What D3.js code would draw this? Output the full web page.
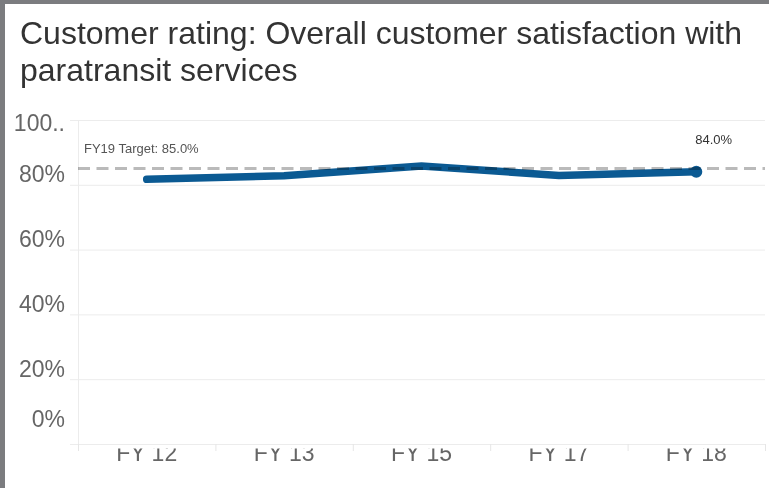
<!DOCTYPE html>
<html>
<head>
<meta charset="utf-8">
<script src="https://cdn.jsdelivr.net/npm/d3@7"></script>
<style>
  html, body { margin: 0; padding: 0; background: #fff; }
  svg { display: block; font-family: "Liberation Sans", Arial, sans-serif; }
</style>
</head>
<body>
<svg id="chart" width="769" height="488"></svg>
<script>
// Fiscal years and overall paratransit satisfaction ratings (%)
const years = ["FY 12", "FY 13", "FY 15", "FY 17", "FY 18"];
const ratings = [81.7, 82.8, 85.8, 82.9, 84.0];
const target = 85.0;
const targetLabel = "FY19 Target: 85.0%";
const yTicks = [0, 20, 40, 60, 80, 100];
const titleLines = ["Customer rating: Overall customer satisfaction with", "paratransit services"];

const W = 769, H = 488;
const svg = d3.select("#chart");

const plot = { left: 78, right: 765, top: 120, bottom: 444 };

const x = d3.scaleBand().domain(years).range([plot.left, plot.right]).padding(0);
const y = d3.scaleLinear().domain([0, 100]).range([plot.bottom, plot.top]);
const cx = d => x(d) + x.bandwidth() / 2;

// frame
svg.append("rect").attr("width", W).attr("height", H).attr("fill", "#fff");
svg.append("rect").attr("x", 0).attr("y", 0).attr("width", W).attr("height", 4).attr("fill", "#7b7c7f");
svg.append("rect").attr("x", 0).attr("y", 0).attr("width", 5).attr("height", H).attr("fill", "#7b7c7f");

// title
svg.append("g").selectAll("text").data(titleLines).join("text")
  .attr("x", 20)
  .attr("y", (d, i) => 44 + i * 37)
  .attr("font-size", 32)
  .attr("fill", "#333")
  .text(d => d);

// horizontal grid from the y axis
const yAxis = d3.axisLeft(y)
  .tickValues(yTicks)
  .tickSizeInner(-(plot.right - plot.left))
  .tickSizeOuter(0)
  .tickFormat(d => d === 100 ? "100.." : d + "%");

const gy = svg.append("g").attr("transform", `translate(${plot.left},0)`).call(yAxis);
gy.select(".domain").remove();
gy.selectAll(".tick").attr("transform", null);
gy.selectAll(".tick line")
  .attr("x1", -8).attr("x2", plot.right - plot.left)
  .attr("y1", d => y(d) + 0.5).attr("y2", d => y(d) + 0.5)
  .attr("stroke", "#ececec");
gy.selectAll(".tick text")
  .attr("x", -13)
  .attr("dy", null)
  .attr("y", d => Math.max(131, Math.min(427, y(d) - 2.5)))
  .attr("font-size", 23)
  .attr("font-family", "Liberation Sans, Arial, sans-serif")
  .attr("fill", "#666")
  .attr("text-anchor", "end");

// vertical axis line
svg.append("line")
  .attr("x1", plot.left + 0.5).attr("x2", plot.left + 0.5)
  .attr("y1", plot.top).attr("y2", plot.bottom)
  .attr("stroke", "#ececec");

// x axis: labels centred in bands, ticks at band boundaries
const bounds = years.map(d => x(d)).concat([plot.right]);
svg.append("g").selectAll("line").data(bounds).join("line")
  .attr("x1", d => d + 0.5).attr("x2", d => d + 0.5)
  .attr("y1", plot.bottom).attr("y2", plot.bottom + 7)
  .attr("stroke", "#e6e6e6");

svg.append("clipPath").attr("id", "xclip")
  .append("rect").attr("x", plot.left).attr("y", plot.bottom + 4.5)
  .attr("width", plot.right - plot.left).attr("height", H - plot.bottom);

const xLayer = svg.append("g").attr("clip-path", "url(#xclip)");
const xAxis = d3.axisBottom(x).tickSize(0).tickPadding(0);
const gx = xLayer.append("g")
  .attr("transform", `translate(0,${plot.bottom})`)
  .call(xAxis);
gx.select(".domain").remove();
gx.selectAll(".tick text")
  .attr("dy", null)
  .attr("y", 17)
  .attr("font-size", 23)
  .attr("font-family", "Liberation Sans, Arial, sans-serif")
  .attr("fill", "#666");

// rating line
const series = years.map((d, i) => ({ year: d, value: ratings[i] }));
const line = d3.line().x(d => cx(d.year)).y(d => y(d.value));
svg.append("path")
  .datum(series)
  .attr("d", line)
  .attr("fill", "none")
  .attr("stroke", "#0b5a93")
  .attr("stroke-width", 7.5)
  .attr("stroke-linecap", "round")
  .attr("stroke-linejoin", "miter");

const last = series[series.length - 1];
svg.append("circle")
  .attr("cx", cx(last.year)).attr("cy", y(last.value))
  .attr("r", 6).attr("fill", "#0b5a93");

// target reference line
svg.append("line")
  .attr("x1", plot.left).attr("x2", plot.right)
  .attr("y1", y(target)).attr("y2", y(target))
  .attr("stroke", "#bababa")
  .attr("stroke-width", 3)
  .attr("stroke-dasharray", "12,6.5")
  .style("mix-blend-mode", "multiply");

svg.append("text")
  .attr("x", plot.left + 6).attr("y", 153)
  .attr("font-size", 13).attr("fill", "#555")
  .text(targetLabel);

svg.append("text")
  .attr("x", cx(last.year) - 1).attr("y", 144)
  .attr("font-size", 13).attr("fill", "#333")
  .text(d3.format(".1f")(last.value) + "%");
</script>
</body>
</html>
